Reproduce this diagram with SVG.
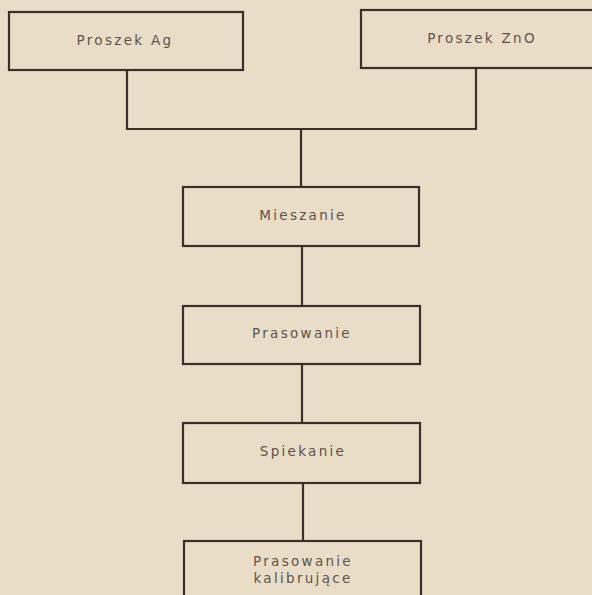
<svg xmlns="http://www.w3.org/2000/svg" width="592" height="595" viewBox="0 0 592 595">
<style>
.box{fill:none;stroke:#3b2f29;stroke-width:2.2}
.conn{fill:none;stroke:#3b2f29;stroke-width:2.2}
text{font-family:"DejaVu Sans","Liberation Sans",sans-serif;font-size:13.5px;fill:#5e534b;text-anchor:middle;letter-spacing:2.3px}
</style>
<rect x="0" y="0" width="592" height="595" fill="#e9ddc8"/>
<g id="connectors">
<polyline class="conn" points="127,70 127,129 476,129 476,68"/>
<line class="conn" x1="301" y1="129" x2="301" y2="188"/>
<line class="conn" x1="302" y1="246" x2="302" y2="306"/>
<line class="conn" x1="302" y1="364" x2="302" y2="423"/>
<line class="conn" x1="303" y1="483" x2="303" y2="541"/>
</g>
<g id="ag"><rect class="box" x="9" y="12" width="234" height="58"/><text x="125" y="45">Proszek Ag</text></g>
<g id="zno"><rect class="box" x="361" y="10" width="240" height="58"/><text x="482" y="43">Proszek ZnO</text></g>
<g id="mieszanie"><rect class="box" x="183" y="187" width="236" height="59"/><text x="303" y="220">Mieszanie</text></g>
<g id="prasowanie"><rect class="box" x="183" y="306" width="237" height="58"/><text x="302" y="338">Prasowanie</text></g>
<g id="spiekanie"><rect class="box" x="183" y="423" width="237" height="60"/><text x="303" y="456">Spiekanie</text></g>
<g id="kalibrujace"><rect class="box" x="184" y="541" width="237" height="70"/><text x="303" y="566">Prasowanie</text><text x="303" y="583">kalibrujące</text></g>
</svg>
